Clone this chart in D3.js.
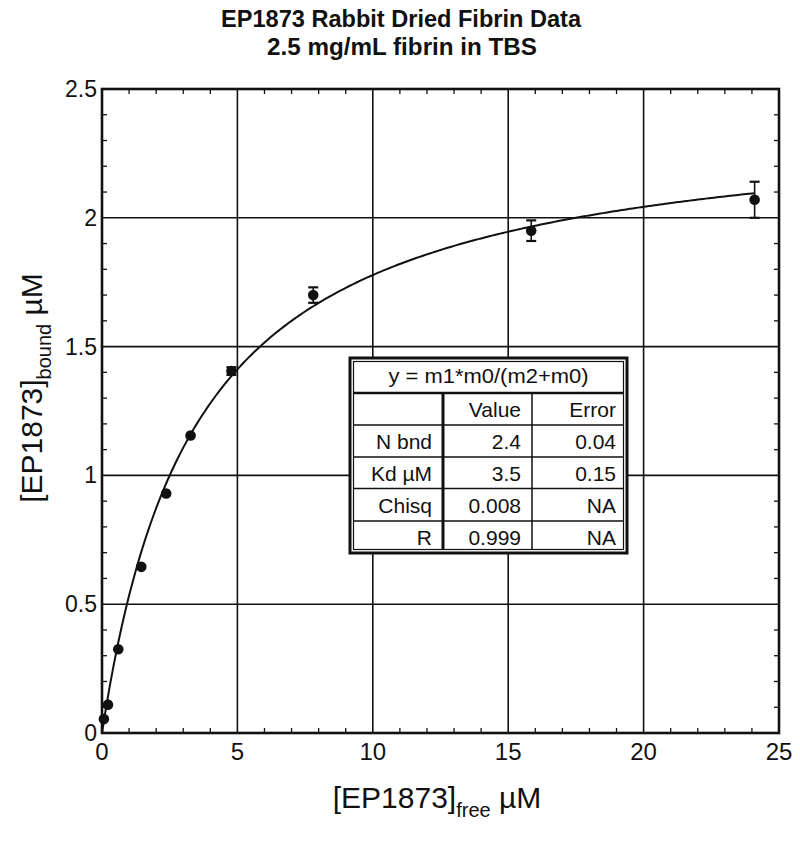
<!DOCTYPE html>
<meta charset="utf-8">
<script src="https://d3js.org/d3.v7.js"></script>
<style>
  body { margin: 0; background: #fff; }
  text { font-family: "Liberation Sans", Arial, sans-serif; fill: #111; }
</style>
<svg id="chart" width="800" height="846"></svg>

<script>
// data
const freeConc  = [0.07, 0.22, 0.6, 1.45, 2.37, 3.27, 4.78, 7.8, 15.85, 24.1];
const boundConc = [0.054, 0.11, 0.325, 0.645, 0.93, 1.155, 1.405, 1.70, 1.95, 2.07];
const boundErr  = [0, 0, 0, 0, 0, 0, 0.015, 0.03, 0.04, 0.07];

// fit parameters (from the table)
const nBnd = 2.4, kd = 3.5;
const tableHead = ["", "Value", "Error"];
const tableRows = [
  ["N bnd", "2.4", "0.04"],
  ["Kd \u00b5M", "3.5", "0.15"],
  ["Chisq", "0.008", "NA"],
  ["R", "0.999", "NA"]
];

const xTicks = [0, 5, 10, 15, 20, 25];
const yTicks = [0, 0.5, 1, 1.5, 2, 2.5];

const svg = d3.select("#chart");
const pLeft = 102, pRight = 779, pTop = 89, pBottom = 733;

const x = d3.scaleLinear().domain([0, 25]).range([pLeft, pRight]);
const y = d3.scaleLinear().domain([0, 2.5]).range([pBottom, pTop]);

// title (narrow bold)
svg.append("text").attr("x", 401).attr("y", 27).attr("text-anchor", "middle")
  .attr("font-size", 24).attr("font-weight", "bold")
  .attr("textLength", 360).attr("lengthAdjust", "spacingAndGlyphs")
  .text("EP1873 Rabbit Dried Fibrin Data");
svg.append("text").attr("x", 402).attr("y", 55).attr("text-anchor", "middle")
  .attr("font-size", 24).attr("font-weight", "bold")
  .attr("textLength", 270).attr("lengthAdjust", "spacingAndGlyphs")
  .text("2.5 mg/mL fibrin in TBS");

// grid
const g = svg.append("g");
g.selectAll(".vg").data(xTicks.slice(1, -1)).join("line")
  .attr("x1", d => x(d)).attr("x2", d => x(d)).attr("y1", pTop).attr("y2", pBottom)
  .attr("stroke", "#111").attr("stroke-width", 1.6);
g.selectAll(".hg").data(yTicks.slice(1, -1)).join("line")
  .attr("y1", d => y(d)).attr("y2", d => y(d)).attr("x1", pLeft).attr("x2", pRight)
  .attr("stroke", "#111").attr("stroke-width", 1.6);

// minor ticks, inward on all four sides
const xMinor = d3.range(1, 25).filter(d => d % 5 !== 0);
const yMinor = d3.range(1, 25).filter(d => d % 5 !== 0).map(d => d / 10);
g.selectAll(".xb").data(xMinor).join("line")
  .attr("x1", d => x(d)).attr("x2", d => x(d)).attr("y1", pBottom).attr("y2", pBottom - 5)
  .attr("stroke", "#111").attr("stroke-width", 1.3);
g.selectAll(".xt").data(xMinor).join("line")
  .attr("x1", d => x(d)).attr("x2", d => x(d)).attr("y1", pTop).attr("y2", pTop + 5)
  .attr("stroke", "#111").attr("stroke-width", 1.3);
g.selectAll(".yl").data(yMinor).join("line")
  .attr("y1", d => y(d)).attr("y2", d => y(d)).attr("x1", pLeft).attr("x2", pLeft + 5)
  .attr("stroke", "#111").attr("stroke-width", 1.3);
g.selectAll(".yr").data(yMinor).join("line")
  .attr("y1", d => y(d)).attr("y2", d => y(d)).attr("x1", pRight).attr("x2", pRight - 5)
  .attr("stroke", "#111").attr("stroke-width", 1.3);

// frame
svg.append("rect").attr("x", pLeft).attr("y", pTop)
  .attr("width", pRight - pLeft).attr("height", pBottom - pTop)
  .attr("fill", "none").attr("stroke", "#111").attr("stroke-width", 2.6);

// tick labels
svg.selectAll(".xl").data(xTicks).join("text")
  .attr("x", d => x(d)).attr("y", 760).attr("text-anchor", "middle")
  .attr("font-size", 24).text(d => d);
svg.selectAll(".ylab").data(yTicks).join("text")
  .attr("x", 97).attr("y", d => y(d) + 8).attr("text-anchor", "end")
  .attr("font-size", 23).text(d => d);

// fit curve
const fit = d3.range(0, 24.11, 0.1).map(v => [v, nBnd * v / (kd + v)]);
svg.append("path").datum(fit)
  .attr("d", d3.line().x(d => x(d[0])).y(d => y(d[1])))
  .attr("fill", "none").attr("stroke", "#111").attr("stroke-width", 2);

// error bars
const pts = freeConc.map((v, i) => ({ x: v, y: boundConc[i], e: boundErr[i] }));
const eb = svg.append("g").selectAll("g").data(pts.filter(d => d.e > 0)).join("g")
  .attr("stroke", "#111").attr("stroke-width", 1.6);
eb.append("line").attr("x1", d => x(d.x)).attr("x2", d => x(d.x))
  .attr("y1", d => y(d.y - d.e)).attr("y2", d => y(d.y + d.e));
eb.append("line").attr("x1", d => x(d.x) - 5).attr("x2", d => x(d.x) + 5)
  .attr("y1", d => y(d.y - d.e)).attr("y2", d => y(d.y - d.e)).attr("stroke-width", 2.2);
eb.append("line").attr("x1", d => x(d.x) - 5).attr("x2", d => x(d.x) + 5)
  .attr("y1", d => y(d.y + d.e)).attr("y2", d => y(d.y + d.e)).attr("stroke-width", 2.2);

// points
svg.append("g").selectAll("circle").data(pts).join("circle")
  .attr("cx", d => x(d.x)).attr("cy", d => y(d.y)).attr("r", 5.3).attr("fill", "#111");

// fit table
const tx = 350, ty = 358, tw = 277;
const colX = [350, 443, 532, 627];
const rowY = [358, 393, 425, 457, 488.5, 521, 553];
const tb = svg.append("g");
tb.append("rect").attr("x", tx).attr("y", ty).attr("width", tw).attr("height", rowY[6] - ty)
  .attr("fill", "#fff").attr("stroke", "#111").attr("stroke-width", 3);
tb.append("rect").attr("x", tx + 3.5).attr("y", ty + 3.5).attr("width", tw - 7).attr("height", rowY[6] - ty - 7)
  .attr("fill", "none").attr("stroke", "#111").attr("stroke-width", 1.2);
tb.selectAll(".hr").data(rowY.slice(1, -1)).join("line")
  .attr("x1", tx + 3.5).attr("x2", tx + tw - 3.5).attr("y1", d => d).attr("y2", d => d)
  .attr("stroke", "#111").attr("stroke-width", (d, i) => i === 0 ? 2.4 : 1.5);
tb.append("line").attr("x1", colX[1]).attr("x2", colX[1]).attr("y1", rowY[1]).attr("y2", rowY[6] - 3.5)
  .attr("stroke", "#111").attr("stroke-width", 3);
tb.append("line").attr("x1", colX[2]).attr("x2", colX[2]).attr("y1", rowY[1]).attr("y2", rowY[6] - 3.5)
  .attr("stroke", "#111").attr("stroke-width", 1.5);
tb.append("text").attr("x", (colX[0] + colX[3]) / 2).attr("y", rowY[0] + 25)
  .attr("text-anchor", "middle").attr("font-size", 21)
  .attr("textLength", 200).attr("lengthAdjust", "spacingAndGlyphs")
  .text("y = m1*m0/(m2+m0)");
const allRows = [tableHead].concat(tableRows);
allRows.forEach((r, i) => {
  r.forEach((c, j) => {
    tb.append("text").attr("x", colX[j + 1] - 11).attr("y", rowY[i + 1] + 24)
      .attr("text-anchor", "end").attr("font-size", 21).text(c);
  });
});

// axis titles
const xt = svg.append("text").attr("x", 437).attr("y", 808).attr("text-anchor", "middle").attr("font-size", 30);
xt.append("tspan").text("[EP1873]");
xt.append("tspan").attr("font-size", 20).attr("dy", 9).text("free");
xt.append("tspan").attr("dy", -9).text(" \u00b5M");

const yt = svg.append("text").attr("transform", "translate(42,388) rotate(-90)")
  .attr("text-anchor", "middle").attr("font-size", 30);
yt.append("tspan").text("[EP1873]");
yt.append("tspan").attr("font-size", 20).attr("dy", 9).text("bound");
yt.append("tspan").attr("dy", -9).text(" \u00b5M");
</script>
